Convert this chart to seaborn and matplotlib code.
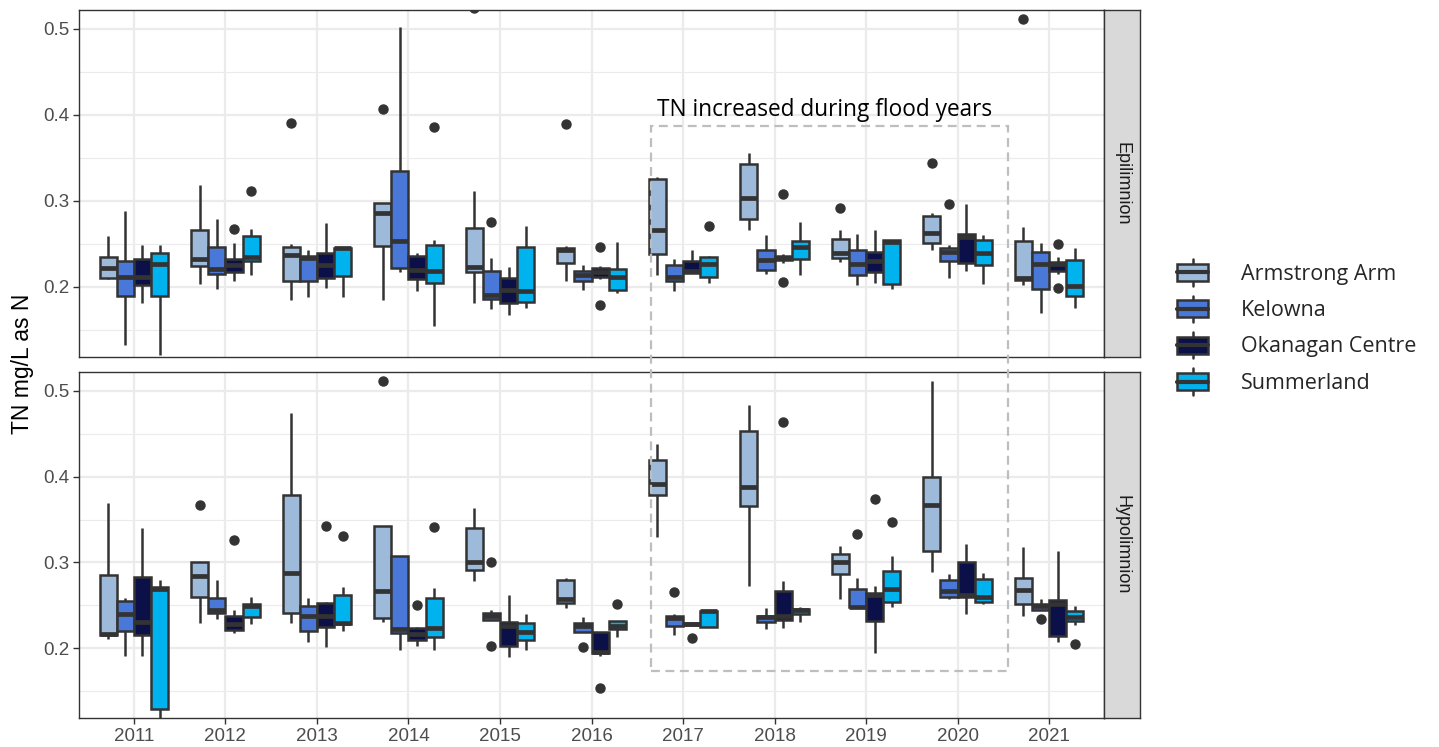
import matplotlib
matplotlib.use("Agg")
import matplotlib.pyplot as plt
import seaborn as sns
import pandas as pd
from matplotlib.patches import Rectangle, Patch
from matplotlib.lines import Line2D
from matplotlib.legend_handler import HandlerBase
from matplotlib.ticker import FixedLocator
from matplotlib.font_manager import FontProperties

# ---------------- data ----------------
YEARS = [str(y) for y in range(2011, 2022)]
SITES = ["Armstrong Arm", "Kelowna", "Okanagan Centre", "Summerland"]
COLORS = ["#9DBADB", "#4A78D8", "#0B1048", "#00B2EE"]
LAYERS = ["Epilimnion", "Hypolimnion"]

# box statistics per year: (lower whisker, Q1, median, Q3, upper whisker)
EPI_ARMSTRONG = [(0.209, 0.210, 0.222, 0.235, 0.259), (0.203, 0.224, 0.233, 0.266, 0.319),
                 (0.185, 0.207, 0.237, 0.247, 0.250), (0.185, 0.248, 0.286, 0.298, 0.298),
                 (0.181, 0.217, 0.223, 0.269, 0.312), (0.207, 0.228, 0.243, 0.245, 0.248),
                 (0.214, 0.238, 0.266, 0.325, 0.328), (0.266, 0.279, 0.304, 0.343, 0.356),
                 (0.229, 0.234, 0.239, 0.256, 0.266), (0.243, 0.251, 0.263, 0.283, 0.286),
                 (0.202, 0.208, 0.210, 0.254, 0.270)]
EPI_KELOWNA = [(0.132, 0.190, 0.212, 0.230, 0.288), (0.198, 0.215, 0.221, 0.247, 0.279),
               (0.188, 0.207, 0.234, 0.236, 0.243), (0.217, 0.222, 0.253, 0.335, 0.502),
               (0.174, 0.186, 0.191, 0.219, 0.234), (0.197, 0.207, 0.214, 0.219, 0.226),
               (0.195, 0.207, 0.212, 0.226, 0.232), (0.215, 0.220, 0.231, 0.243, 0.261),
               (0.202, 0.214, 0.227, 0.243, 0.262), (0.211, 0.230, 0.241, 0.245, 0.249),
               (0.170, 0.198, 0.227, 0.241, 0.251)]
EPI_OKANAGAN = [(0.181, 0.202, 0.212, 0.233, 0.249), (0.207, 0.217, 0.225, 0.233, 0.251),
                (0.199, 0.210, 0.225, 0.239, 0.274), (0.195, 0.209, 0.220, 0.236, 0.240),
                (0.168, 0.181, 0.196, 0.211, 0.223), (0.209, 0.212, 0.217, 0.222, 0.224),
                (0.216, 0.216, 0.219, 0.230, 0.243), (0.228, 0.231, 0.234, 0.236, 0.238),
                (0.205, 0.217, 0.230, 0.241, 0.266), (0.218, 0.228, 0.258, 0.262, 0.296),
                (0.215, 0.219, 0.227, 0.229, 0.235)]
EPI_SUMMERLAND = [(0.121, 0.190, 0.227, 0.240, 0.249), (0.214, 0.230, 0.235, 0.259, 0.267),
                  (0.188, 0.213, 0.245, 0.245, 0.245), (0.155, 0.205, 0.219, 0.249, 0.255),
                  (0.175, 0.183, 0.195, 0.247, 0.271), (0.193, 0.197, 0.212, 0.221, 0.252),
                  (0.205, 0.212, 0.227, 0.235, 0.236), (0.214, 0.233, 0.247, 0.254, 0.276),
                  (0.198, 0.203, 0.252, 0.255, 0.255), (0.203, 0.226, 0.239, 0.255, 0.260),
                  (0.175, 0.190, 0.201, 0.231, 0.245)]
EPI_OUTLIERS = [(2012, "Okanagan Centre", 0.267), (2012, "Summerland", 0.312),
                (2013, "Armstrong Arm", 0.391), (2014, "Armstrong Arm", 0.407),
                (2014, "Summerland", 0.386), (2015, "Armstrong Arm", 0.524),
                (2015, "Kelowna", 0.276), (2016, "Armstrong Arm", 0.389),
                (2016, "Okanagan Centre", 0.246), (2016, "Okanagan Centre", 0.179),
                (2017, "Summerland", 0.271), (2018, "Okanagan Centre", 0.308),
                (2018, "Okanagan Centre", 0.206), (2019, "Armstrong Arm", 0.292),
                (2020, "Armstrong Arm", 0.344), (2020, "Kelowna", 0.297),
                (2021, "Armstrong Arm", 0.511), (2021, "Okanagan Centre", 0.250),
                (2021, "Okanagan Centre", 0.199)]

HYP_ARMSTRONG = [(0.211, 0.215, 0.217, 0.285, 0.369), (0.229, 0.260, 0.284, 0.300, 0.300),
                 (0.229, 0.241, 0.288, 0.379, 0.474), (0.231, 0.235, 0.267, 0.342, 0.342),
                 (0.278, 0.291, 0.301, 0.340, 0.364), (0.247, 0.253, 0.257, 0.279, 0.282),
                 (0.330, 0.379, 0.391, 0.419, 0.438), (0.273, 0.366, 0.388, 0.453, 0.483),
                 (0.257, 0.287, 0.300, 0.310, 0.319), (0.289, 0.313, 0.367, 0.400, 0.512),
                 (0.238, 0.252, 0.268, 0.282, 0.318)]
HYP_KELOWNA = [(0.191, 0.220, 0.240, 0.255, 0.259), (0.234, 0.241, 0.244, 0.259, 0.279),
               (0.207, 0.220, 0.238, 0.249, 0.259), (0.198, 0.218, 0.222, 0.308, 0.308),
               (0.233, 0.233, 0.238, 0.241, 0.245), (0.219, 0.219, 0.226, 0.229, 0.236),
               (0.215, 0.226, 0.235, 0.238, 0.240), (0.222, 0.230, 0.236, 0.238, 0.247),
               (0.247, 0.248, 0.248, 0.269, 0.282), (0.257, 0.260, 0.267, 0.280, 0.286),
               (0.245, 0.245, 0.249, 0.251, 0.257)]
HYP_OKANAGAN = [(0.191, 0.215, 0.230, 0.283, 0.340), (0.218, 0.221, 0.228, 0.238, 0.244),
                (0.201, 0.225, 0.238, 0.253, 0.254), (0.203, 0.210, 0.217, 0.223, 0.225),
                (0.190, 0.202, 0.226, 0.231, 0.262), (0.191, 0.194, 0.195, 0.219, 0.219),
                (0.227, 0.227, 0.228, 0.229, 0.229), (0.224, 0.233, 0.238, 0.267, 0.278),
                (0.194, 0.232, 0.262, 0.264, 0.272), (0.240, 0.260, 0.262, 0.300, 0.322),
                (0.207, 0.214, 0.251, 0.256, 0.313)]
HYP_SUMMERLAND = [(0.115, 0.129, 0.269, 0.271, 0.279), (0.228, 0.236, 0.249, 0.251, 0.260),
                  (0.220, 0.228, 0.229, 0.262, 0.271), (0.198, 0.213, 0.224, 0.259, 0.270),
                  (0.198, 0.209, 0.219, 0.229, 0.240), (0.213, 0.222, 0.226, 0.232, 0.232),
                  (0.225, 0.225, 0.243, 0.243, 0.244), (0.231, 0.240, 0.244, 0.246, 0.248),
                  (0.248, 0.254, 0.269, 0.290, 0.308), (0.251, 0.254, 0.260, 0.281, 0.288),
                  (0.227, 0.232, 0.236, 0.243, 0.249)]
HYP_OUTLIERS = [(2012, "Armstrong Arm", 0.367), (2012, "Okanagan Centre", 0.326),
                (2013, "Okanagan Centre", 0.342), (2013, "Summerland", 0.331),
                (2014, "Armstrong Arm", 0.511), (2014, "Okanagan Centre", 0.250),
                (2014, "Summerland", 0.341), (2015, "Kelowna", 0.301), (2015, "Kelowna", 0.203),
                (2016, "Kelowna", 0.201), (2016, "Okanagan Centre", 0.153),
                (2016, "Summerland", 0.251), (2017, "Kelowna", 0.266),
                (2017, "Okanagan Centre", 0.212), (2018, "Okanagan Centre", 0.464),
                (2019, "Kelowna", 0.333), (2019, "Okanagan Centre", 0.374),
                (2019, "Summerland", 0.347), (2021, "Kelowna", 0.234), (2021, "Summerland", 0.205)]

ANNOTATION = "TN increased during flood years"
Y_LABEL = "TN mg/L as N"
Y_TICKS = [0.2, 0.3, 0.4, 0.5]


def build_rows(layer, site_stats, outliers):
    """Expand each box summary into values whose quartiles/whiskers equal the summary."""
    rows = []
    for site, stats in zip(SITES, site_stats):
        for year, st in zip(YEARS, stats):
            lo, q1, med, q3, hi = st
            out = [v for (y, s, v) in outliers if str(y) == year and s == site]
            lows = sorted(v for v in out if v < lo)
            highs = sorted(v for v in out if v > hi)
            m = 1 + max(len(lows), len(highs))
            vals = (lows + [lo] * (m - len(lows)) + [q1] * m + [med] * m + [q3]
                    + [hi] * (m - len(highs)) + highs)
            rows += [(layer, year, site, v) for v in vals]
    return rows


rows = build_rows("Epilimnion", [EPI_ARMSTRONG, EPI_KELOWNA, EPI_OKANAGAN, EPI_SUMMERLAND], EPI_OUTLIERS)
rows += build_rows("Hypolimnion", [HYP_ARMSTRONG, HYP_KELOWNA, HYP_OKANAGAN, HYP_SUMMERLAND], HYP_OUTLIERS)
df = pd.DataFrame(rows, columns=["layer", "year", "site", "TN"])

# ---------------- style ----------------
sns.set_theme(style="white")
plt.rcParams["font.family"] = ["Liberation Sans", "DejaVu Sans"]

W, H = 1439, 747
fig = plt.figure(figsize=(W / 100, H / 100), dpi=100)
fig.patch.set_facecolor("white")

LEFT, RIGHT = 79, 1104
panels_px = [(10, 357), (372, 718)]
axes = []
for top, bot in panels_px:
    ax = fig.add_axes([LEFT / W, 1 - bot / H, (RIGHT - LEFT) / W, (bot - top) / H])
    axes.append(ax)

palette = dict(zip(SITES, COLORS))
EDGE = "#333333"
LW = 1.8

for i, (ax, layer) in enumerate(zip(axes, LAYERS)):
    d = df[df["layer"] == layer]
    sns.boxplot(data=d, x="year", y="TN", hue="site", order=YEARS, hue_order=SITES,
                palette=palette, saturation=1, width=0.75, gap=0, dodge=True,
                linecolor=EDGE, linewidth=LW, fliersize=6.5, whis=1.5,
                showcaps=False,
                medianprops=dict(linewidth=3.4, color=EDGE),
                flierprops=dict(marker="o", markerfacecolor=EDGE, markeredgecolor=EDGE),
                legend=False, ax=ax)
    ax.set_xlim(-0.6, 10.6)
    ax.set_ylim(0.1186, 0.522)
    ax.set_xlabel("")
    ax.set_ylabel("")
    ax.set_yticks(Y_TICKS)
    ax.set_yticklabels([f"{t:.1f}" for t in Y_TICKS])
    ax.yaxis.set_minor_locator(FixedLocator([0.15, 0.25, 0.35, 0.45]))
    ax.set_axisbelow(True)
    ax.grid(True, which="major", color="#EBEBEB", linewidth=1.6)
    ax.grid(True, which="minor", axis="y", color="#EBEBEB", linewidth=0.8)
    ax.tick_params(axis="y", which="major", length=4, width=1, color=EDGE, pad=3,
                   labelsize=13.5, labelcolor="#4D4D4D", left=True)
    ax.tick_params(axis="y", which="minor", length=0)
    for sp in ax.spines.values():
        sp.set_visible(True)
        sp.set_color(EDGE)
        sp.set_linewidth(1.0)
    if i == 0:
        ax.tick_params(axis="x", which="both", length=0, labelbottom=False, bottom=False)
    else:
        ax.tick_params(axis="x", which="major", length=4, width=1, color=EDGE, pad=3,
                       labelsize=13.5, labelcolor="#4D4D4D", bottom=True)

    # facet strip
    top, bot = panels_px[i]
    sax = fig.add_axes([RIGHT / W, 1 - bot / H, 36 / W, (bot - top) / H])
    sax.set_facecolor("#D9D9D9")
    sax.set_xticks([])
    sax.set_yticks([])
    for sp in sax.spines.values():
        sp.set_visible(True)
        sp.set_color(EDGE)
        sp.set_linewidth(1.0)
    sax.text(0.5, 0.5, layer, rotation=270, ha="center", va="center",
             fontsize=13, color="#1A1A1A", transform=sax.transAxes)

# y axis title
fig.text(22 / W, 1 - 364 / H, Y_LABEL, rotation=90, ha="center", va="center",
         fontsize=16.5, color="black")


# legend with box-shaped keys
class BoxKey(HandlerBase):
    def create_artists(self, legend, orig_handle, xdescent, ydescent, width, height,
                       fontsize, trans):
        fc = orig_handle.get_facecolor()
        x0, y0 = -xdescent, -ydescent
        bh = height * 0.66
        by = y0 + (height - bh) / 2
        cx = x0 + width / 2
        w1 = Line2D([cx, cx], [y0, by], color=EDGE, lw=LW, transform=trans)
        w2 = Line2D([cx, cx], [by + bh, y0 + height], color=EDGE, lw=LW, transform=trans)
        rect = Rectangle((x0, by), width, bh, facecolor=fc, edgecolor=EDGE, lw=LW,
                         transform=trans)
        med = Line2D([x0, x0 + width], [by + bh / 2] * 2, color=EDGE, lw=3, transform=trans)
        return [w1, w2, rect, med]


handles = [Patch(facecolor=c) for c in COLORS]
fig.legend(handles, SITES, handler_map={Patch: BoxKey()}, loc="center left",
           bbox_to_anchor=(1177 / W, 1 - 327 / H), frameon=False,
           prop=FontProperties(family="Open Sans", size=15.5),
           handlelength=1.45, handleheight=1.5, labelspacing=0.47, handletextpad=1.5,
           borderaxespad=0, borderpad=0)

# dashed highlight box + annotation
rect = Rectangle((651 / W, 1 - 671 / H), (1008 - 651) / W, (671 - 126) / H,
                 transform=fig.transFigure, fill=False, edgecolor="#BEBEBE",
                 linewidth=1.6, linestyle=(0, (4, 2.5)), zorder=10)
fig.add_artist(rect)
fig.text(657 / W, 1 - 116 / H, ANNOTATION, fontfamily="Open Sans", fontsize=16.3,
         color="black", ha="left", va="baseline")

fig.savefig("out.png", dpi=100)
